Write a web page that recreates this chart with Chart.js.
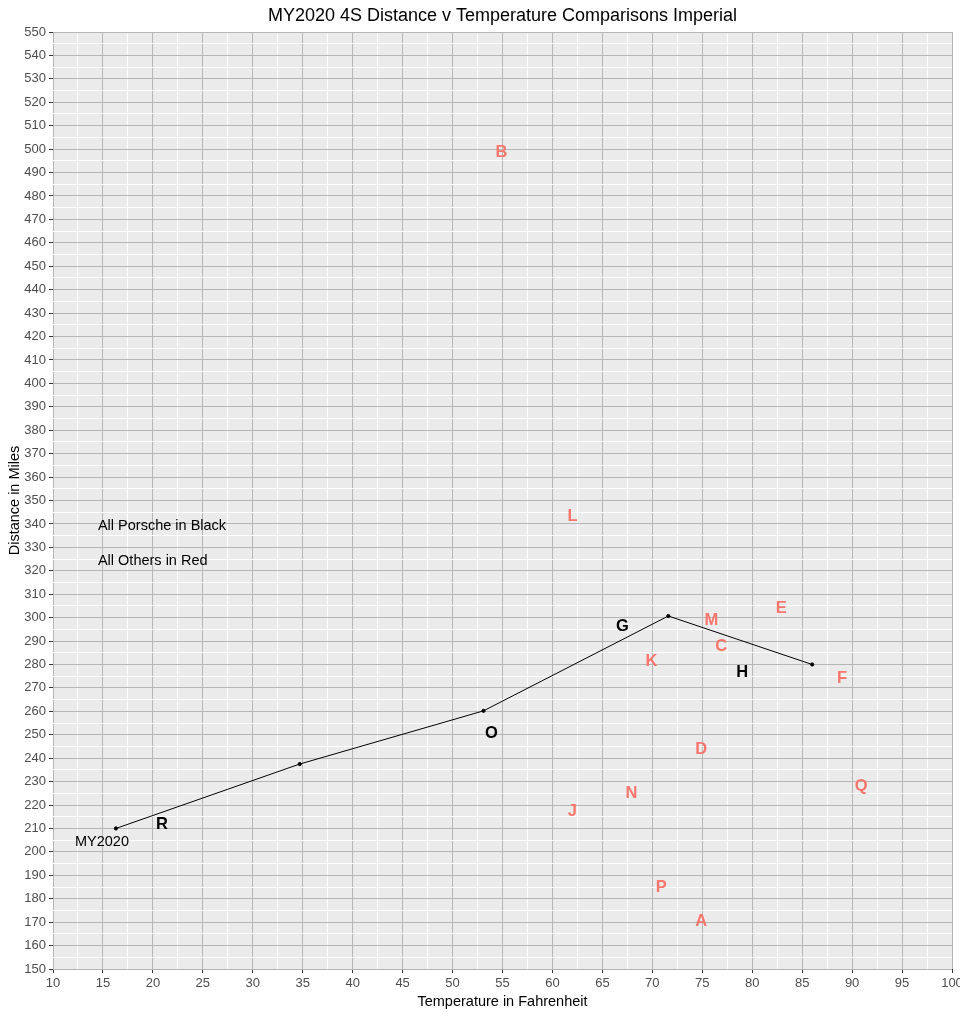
<!DOCTYPE html>
<html>
<head>
<meta charset="utf-8">
<script src="https://cdn.jsdelivr.net/npm/chart.js@4"></script>
<style>
  body { margin: 0; background: #fff; }
  #wrap { width: 960px; height: 1014px; }
</style>
</head>
<body>
<div id="wrap"><canvas id="myChart"></canvas></div>
<script>
// Porsche line (temperature F, distance miles)
const porscheTemp = [16.3, 34.7, 53.1, 71.6, 86.0];
const porscheDist = [210, 237.5, 260.2, 300.7, 280];

// model year label
const yearLabel = ['MY2020'];
const yearTemp = [14.9];
const yearDist = [204.2];

// black letter labels (Porsche)
const blackLabels = ['R', 'O', 'G', 'H'];
const blackTemp = [20.9, 53.9, 67.0, 79.0];
const blackDist = [211.9, 250.7, 296.4, 276.8];

// red letter labels (all others)
const redLabels = ['B', 'L', 'E', 'M', 'C', 'K', 'F', 'D', 'Q', 'N', 'J', 'P', 'A'];
const redTemp = [54.9, 62.0, 82.9, 75.9, 76.9, 69.9, 89.0, 74.9, 90.9, 67.9, 62.0, 70.9, 74.9];
const redDist = [498.7, 343.3, 304.1, 299.0, 287.9, 281.5, 274.2, 243.9, 228.1, 225.1, 217.4, 184.6, 170.1];

// notes
const noteText = ['All Porsche in Black', 'All Others in Red'];
const noteTemp = [14.5, 14.5];
const noteDist = [339.1, 324.1];

const xTicks = { min: 10, max: 100, major: 5, minor: 2.5 };
const yTicks = { min: 150, max: 550, major: 10, minor: 5 };

const chartTitle = 'MY2020 4S Distance v Temperature Comparisons Imperial';
const FONT = '"Liberation Sans", Arial, sans-serif';

const toPts = (xs, ys) => xs.map((x, i) => ({ x: x, y: ys[i] }));

const panelBg = {
    id: 'panelBg',
    beforeDraw(chart) {
        const a = chart.chartArea;
        const c = chart.ctx;
        c.save();
        c.fillStyle = '#ebebeb';
        c.fillRect(a.left, a.top, a.right - a.left, a.bottom - a.top);
        // title centred over the panel, like ggplot
        c.fillStyle = '#000';
        c.font = '18px ' + FONT;
        c.textAlign = 'center';
        c.textBaseline = 'middle';
        c.fillText(chartTitle, (a.left + a.right) / 2, 16);
        c.restore();
    }
};

// draws text for datasets that carry a `texts` list, at the points' scale positions
const textMarks = {
    id: 'textMarks',
    afterDatasetsDraw(chart) {
        const c = chart.ctx;
        chart.data.datasets.forEach((ds, i) => {
            if (!ds.texts) return;
            const meta = chart.getDatasetMeta(i);
            c.save();
            c.fillStyle = ds.textColor;
            c.font = ds.textFont;
            c.textAlign = ds.textAlign || 'center';
            c.textBaseline = 'middle';
            meta.data.forEach((el, j) => {
                c.fillText(ds.texts[j], el.x, el.y);
            });
            c.restore();
        });
    }
};

const isMajor = (v, step) => Math.abs(v / step - Math.round(v / step)) < 1e-6;

new Chart(document.getElementById('myChart'), {
    type: 'scatter',
    data: {
        datasets: [
            {
                label: 'Porsche',
                data: toPts(porscheTemp, porscheDist),
                showLine: true,
                borderColor: '#000',
                borderWidth: 1,
                backgroundColor: '#000',
                pointRadius: 1.6,
                pointHoverRadius: 1.6
            },
            {
                label: 'Year',
                data: toPts(yearTemp, yearDist),
                pointRadius: 0,
                texts: yearLabel,
                textColor: '#000',
                textFont: '14.5px ' + FONT
            },
            {
                label: 'Porsche labels',
                data: toPts(blackTemp, blackDist),
                pointRadius: 0,
                texts: blackLabels,
                textColor: '#000',
                textFont: 'bold 16.5px ' + FONT
            },
            {
                label: 'Others',
                data: toPts(redTemp, redDist),
                pointRadius: 0,
                texts: redLabels,
                textColor: '#F8766D',
                textFont: 'bold 16.5px ' + FONT
            },
            {
                label: 'Notes',
                data: toPts(noteTemp, noteDist),
                pointRadius: 0,
                texts: noteText,
                textColor: '#000',
                textAlign: 'left',
                textFont: '14.5px ' + FONT
            }
        ]
    },
    options: {
        responsive: true,
        maintainAspectRatio: false,
        animation: false,
        layout: { padding: { right: 8, left: 0, top: 32, bottom: 0 } },
        plugins: {
            legend: { display: false },
            tooltip: { enabled: false },
            title: { display: false }
        },
        scales: {
            x: {
                type: 'linear',
                min: xTicks.min,
                max: xTicks.max,
                border: { display: false },
                afterFit(scale) {
                    scale.height = 45;
                    scale.paddingRight = 8;
                },
                grid: {
                    color: (ctx) => isMajor(ctx.tick.value, xTicks.major) ? '#b5b5b5' : '#ffffff',
                    tickColor: (ctx) => isMajor(ctx.tick.value, xTicks.major) ? '#333333' : 'rgba(0,0,0,0)',
                    tickLength: 4,
                    lineWidth: 1
                },
                ticks: {
                    stepSize: xTicks.minor,
                    autoSkip: false,
                    maxRotation: 0,
                    padding: 3,
                    color: '#4d4d4d',
                    font: { family: FONT, size: 13 },
                    callback: (v) => isMajor(v, xTicks.major) ? v : ''
                },
                title: {
                    display: true,
                    text: 'Temperature in Fahrenheit',
                    color: '#000',
                    font: { family: FONT, size: 14.5 },
                    padding: { top: 0, bottom: 3 }
                }
            },
            y: {
                type: 'linear',
                min: yTicks.min,
                max: yTicks.max,
                border: { display: false },
                afterFit(scale) { scale.width = 53; },
                grid: {
                    color: (ctx) => isMajor(ctx.tick.value, yTicks.major) ? '#b5b5b5' : '#ffffff',
                    tickColor: (ctx) => isMajor(ctx.tick.value, yTicks.major) ? '#333333' : 'rgba(0,0,0,0)',
                    tickLength: 4,
                    lineWidth: 1
                },
                ticks: {
                    stepSize: yTicks.minor,
                    autoSkip: false,
                    padding: 3,
                    color: '#4d4d4d',
                    font: { family: FONT, size: 13 },
                    callback: (v) => isMajor(v, yTicks.major) ? v : ''
                },
                title: {
                    display: true,
                    text: 'Distance in Miles',
                    color: '#000',
                    font: { family: FONT, size: 14.5 },
                    padding: { top: 6, bottom: 0 }
                }
            }
        }
    },
    plugins: [panelBg, textMarks]
});
</script>
</body>
</html>
